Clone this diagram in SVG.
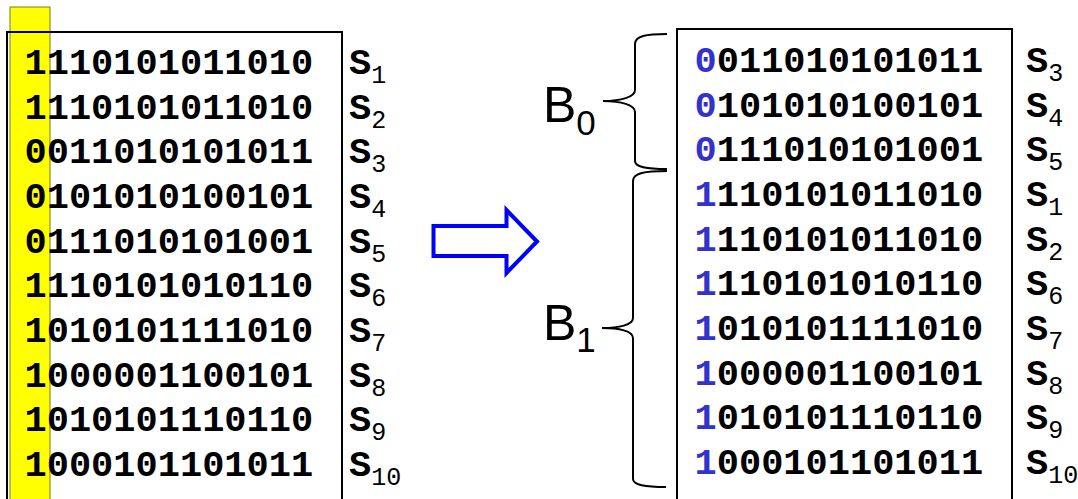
<svg xmlns="http://www.w3.org/2000/svg" width="1078" height="499" viewBox="0 0 1078 499">
  <style>
    .bits { font-family: "Liberation Mono", "Courier New", monospace; font-weight: bold; font-size: 37px; fill: #000; }
    .sub { font-weight: normal; font-size: 25px; }
    .lead { fill: #3333cc; }
    .box { fill: none; stroke: #000; stroke-width: 2; }
    .brace { fill: none; stroke: #000; stroke-width: 2; }
    .blabel { font-family: "Liberation Sans", Arial, sans-serif; font-size: 50px; fill: #000; }
    .bsub { font-size: 35px; }
  </style>
  <rect width="1078" height="499" fill="#fff"/>

  <!-- left table: unsorted strings with the first column highlighted -->
  <g id="left-table">
    <rect x="10" y="7" width="40" height="500" fill="#ffff00" stroke="#7a7a20" stroke-width="1"/>
    <rect class="box" x="7" y="32" width="335" height="480"/>
    <g class="bits">
      <text x="24.5" y="74">1110101011010</text>
      <text x="24.5" y="118.7">1110101011010</text>
      <text x="24.5" y="163.3">0011010101011</text>
      <text x="24.5" y="208">0101010100101</text>
      <text x="24.5" y="252.7">0111010101001</text>
      <text x="24.5" y="297.3">1110101010110</text>
      <text x="24.5" y="342">1010101111010</text>
      <text x="24.5" y="386.7">1000001100101</text>
      <text x="24.5" y="431.3">1010101110110</text>
      <text x="24.5" y="476">1000101101011</text>
    </g>
    <g class="bits">
      <text x="349" y="74">S<tspan class="sub" dy="9">1</tspan></text>
      <text x="349" y="118.7">S<tspan class="sub" dy="9">2</tspan></text>
      <text x="349" y="163.3">S<tspan class="sub" dy="9">3</tspan></text>
      <text x="349" y="208">S<tspan class="sub" dy="9">4</tspan></text>
      <text x="349" y="252.7">S<tspan class="sub" dy="9">5</tspan></text>
      <text x="349" y="297.3">S<tspan class="sub" dy="9">6</tspan></text>
      <text x="349" y="342">S<tspan class="sub" dy="9">7</tspan></text>
      <text x="349" y="386.7">S<tspan class="sub" dy="9">8</tspan></text>
      <text x="349" y="431.3">S<tspan class="sub" dy="9">9</tspan></text>
      <text x="349" y="476">S<tspan class="sub" dy="9">10</tspan></text>
    </g>
  </g>

  <!-- hollow block arrow -->
  <g id="arrow">
    <polygon points="433.5,226 506.5,226 506.5,210 537,241.5 506.5,273 506.5,256 433.5,256"
             fill="#fff" stroke="#0000ff" stroke-width="4" stroke-miterlimit="10"/>
  </g>

  <!-- right table: strings grouped by first bit -->
  <g id="right-table">
    <rect class="box" x="677" y="29" width="335" height="480"/>
    <g class="bits">
      <text x="694.5" y="72"><tspan class="lead">0</tspan>011010101011</text>
      <text x="694.5" y="116.7"><tspan class="lead">0</tspan>101010100101</text>
      <text x="694.5" y="161.3"><tspan class="lead">0</tspan>111010101001</text>
      <text x="694.5" y="206"><tspan class="lead">1</tspan>110101011010</text>
      <text x="694.5" y="250.7"><tspan class="lead">1</tspan>110101011010</text>
      <text x="694.5" y="295.3"><tspan class="lead">1</tspan>110101010110</text>
      <text x="694.5" y="340"><tspan class="lead">1</tspan>010101111010</text>
      <text x="694.5" y="384.7"><tspan class="lead">1</tspan>000001100101</text>
      <text x="694.5" y="429.3"><tspan class="lead">1</tspan>010101110110</text>
      <text x="694.5" y="474"><tspan class="lead">1</tspan>000101101011</text>
    </g>
    <g class="bits">
      <text x="1026" y="72">S<tspan class="sub" dy="9">3</tspan></text>
      <text x="1026" y="116.7">S<tspan class="sub" dy="9">4</tspan></text>
      <text x="1026" y="161.3">S<tspan class="sub" dy="9">5</tspan></text>
      <text x="1026" y="206">S<tspan class="sub" dy="9">1</tspan></text>
      <text x="1026" y="250.7">S<tspan class="sub" dy="9">2</tspan></text>
      <text x="1026" y="295.3">S<tspan class="sub" dy="9">6</tspan></text>
      <text x="1026" y="340">S<tspan class="sub" dy="9">7</tspan></text>
      <text x="1026" y="384.7">S<tspan class="sub" dy="9">8</tspan></text>
      <text x="1026" y="429.3">S<tspan class="sub" dy="9">9</tspan></text>
      <text x="1026" y="474">S<tspan class="sub" dy="9">10</tspan></text>
    </g>
  </g>

  <!-- bucket braces -->
  <g id="bucket-b0">
    <path class="brace" d="M667,34 C646,34 635,36 635,44 L635,90 C635,97 621,101 603,101 C621,101 635,105 635,112 L635,161 C635,167 646,169 667,169"/>
    <text class="blabel" x="543" y="122">B<tspan class="bsub" dy="13">0</tspan></text>
  </g>
  <g id="bucket-b1">
    <path class="brace" d="M667,171 C645,171 633,173 633,181 L633,318 C633,325 619,328 602,328 C619,328 633,331 633,338 L633,479 C633,485 645,487 666,487"/>
    <text class="blabel" x="543" y="340">B<tspan class="bsub" dy="12">1</tspan></text>
  </g>
</svg>
